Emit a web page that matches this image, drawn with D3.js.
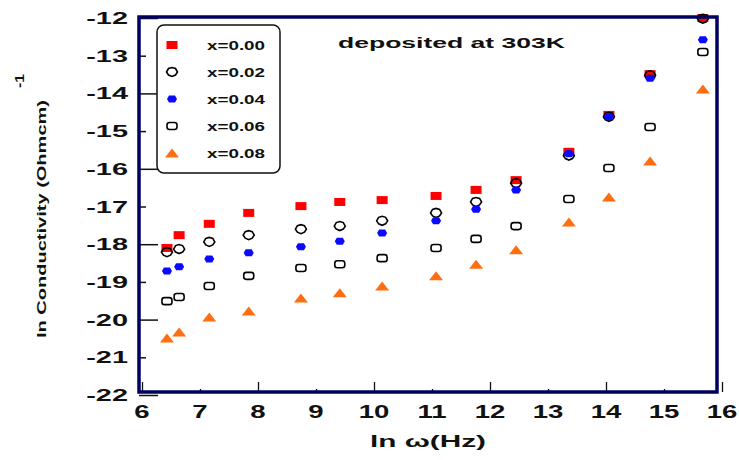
<!DOCTYPE html>
<html>
<head>
<meta charset="utf-8">
<script src="https://cdn.jsdelivr.net/npm/d3@7/dist/d3.min.js"></script>
<style>
  body { margin: 0; background: white; }
  svg { display: block; }
  text { font-family: "Liberation Sans", Arial, sans-serif; font-weight: bold; fill: #111; }
</style>
</head>
<body>
<svg width="739" height="460"></svg>
<script>
let width = 739;
let height = 460;

// ln(omega) positions, shared by every series
let lnOmega = [6.43, 6.64, 7.16, 7.84, 8.74, 9.41, 10.14, 11.07, 11.76, 12.45, 13.36, 14.05, 14.76, 15.67];

let x000 = [-18.10, -17.76, -17.46, -17.17, -16.99, -16.88, -16.83, -16.72, -16.56, -16.30, -15.55, -14.57, -13.49, -12.00];
let x002 = [-18.21, -18.13, -17.94, -17.76, -17.60, -17.52, -17.38, -17.17, -16.88, -16.38, -15.65, -14.62, -13.52, -12.02];
let x004 = [-18.71, -18.60, -18.39, -18.23, -18.07, -17.92, -17.70, -17.38, -17.07, -16.56, -15.60, -14.62, -13.60, -12.58];
let x006 = [-19.51, -19.40, -19.11, -18.84, -18.63, -18.53, -18.37, -18.10, -17.86, -17.52, -16.80, -15.98, -14.89, -12.90];
let x008 = [-20.49, -20.33, -19.93, -19.77, -19.43, -19.29, -19.11, -18.84, -18.53, -18.15, -17.41, -16.75, -15.79, -13.88];

let seriesNames = ['x=0.00', 'x=0.02', 'x=0.04', 'x=0.06', 'x=0.08'];
let seriesValues = [x000, x002, x004, x006, x008];

let xTicks = d3.range(6, 17);
let yTicks = d3.range(-22, -11);

let x = d3.scaleLinear().domain([6, 16]).range([142, 722]);
let y = d3.scaleLinear().domain([-22, -12]).range([395, 18]);

let svg = d3.select('svg');

// marker shapes, one per series
function marker(g, i) {
  if (i === 0) {
    g.append('rect').attr('x', -5.5).attr('y', -4).attr('width', 11).attr('height', 8).attr('fill', '#ff0000');
  } else if (i === 1) {
    g.append('path')
      .attr('d', 'M-5.5,0 L-3.5,-3.5 L0,-4.5 L3.5,-3.5 L5.5,0 L3.5,3 L0,4.5 L-3.5,3 Z')
      .attr('fill', 'none').attr('stroke', '#000').attr('stroke-width', 1.6);
  } else if (i === 2) {
    g.append('path')
      .attr('d', 'M-5,0 L-3,-3.5 L3,-3.5 L5,0 L3,3.5 L-3,3.5 Z')
      .attr('fill', '#0a0aff');
  } else if (i === 3) {
    g.append('rect').attr('x', -5).attr('y', -3.5).attr('width', 10).attr('height', 7).attr('rx', 2.5)
      .attr('fill', 'none').attr('stroke', '#000').attr('stroke-width', 1.6);
  } else {
    g.append('path').attr('d', 'M-7,4.5 L0,-4.5 L7,4.5 Z').attr('fill', '#ff6e10');
  }
}

// points
seriesValues.forEach((vals, i) => {
  svg.append('g')
    .attr('class', 'series' + i)
    .selectAll('g')
    .data(vals.map((v, k) => [lnOmega[k], v]))
    .enter()
      .append('g')
      .attr('transform', d => `translate(${x(d[0])},${y(d[1])})`)
      .each(function() { marker(d3.select(this), i); })
  ;
});

// ticks
svg.append('g')
  .attr('transform', `translate(0,${y(-22) - 3})`)
  .call(d3.axisBottom(x).tickValues(xTicks).tickFormat(''))
  .call(g => g.select('.domain').remove())
  .call(g => g.selectAll('.tick line')
    .attr('stroke', '#111').attr('stroke-width', 1.3)
    .attr('y2', d => d % 2 === 0 ? -10 : -3))
  ;
svg.append('g')
  .attr('transform', `translate(${x(6) - 3},0)`)
  .call(d3.axisLeft(y).tickValues(yTicks).tickFormat(''))
  .call(g => g.select('.domain').remove())
  .call(g => g.selectAll('.tick line')
    .attr('stroke', '#111').attr('stroke-width', 1.5)
    .attr('x2', d => d % 2 === 0 ? 19 : 7))
  ;

// frame
let fl = x(6) - 3, fr = x(16) - 5, ft = y(-12) - 1, fb = y(-22) - 3;
svg.append('path')
  .attr('d', `M${fl},${ft} L${fr},${ft} L${fr},${fb} L${fl},${fb} Z`)
  .attr('fill', 'none')
  .attr('stroke', '#00005e')
  .attr('stroke-width', 3.5)
  ;

// tick labels (the original is stretched horizontally)
svg.append('g')
  .selectAll('text')
  .data(xTicks)
  .enter()
    .append('text')
    .attr('transform', d => `translate(${x(d)},418) scale(1.45,1)`)
    .attr('text-anchor', 'middle')
    .attr('font-size', 19)
    .text(d => d)
  ;
svg.append('g')
  .selectAll('text')
  .data(yTicks)
  .enter()
    .append('text')
    .attr('transform', d => `translate(128,${y(d) + 6}) scale(1.7,1)`)
    .attr('text-anchor', 'end')
    .attr('font-size', 17)
    .text(d => String(d).replace('-', '-'))
  ;

// axis titles
svg.append('text')
  .attr('x', 370).attr('y', 447)
  .attr('font-size', 17)
  .attr('textLength', 116)
  .attr('lengthAdjust', 'spacingAndGlyphs')
  .text('ln  \u03c9(Hz)')
  ;
svg.append('text')
  .attr('transform', 'translate(46,338) rotate(-90)')
  .attr('font-size', 13)
  .attr('textLength', 238)
  .attr('lengthAdjust', 'spacingAndGlyphs')
  .text('ln Conductivity (Ohmcm)')
  ;
svg.append('text')
  .attr('transform', 'translate(24,88) rotate(-90)')
  .attr('font-size', 13)
  .attr('textLength', 14)
  .attr('lengthAdjust', 'spacingAndGlyphs')
  .text('-1')
  ;

svg.append('text')
  .attr('x', 338).attr('y', 48)
  .attr('font-size', 14)
  .attr('textLength', 227)
  .attr('lengthAdjust', 'spacingAndGlyphs')
  .text('deposited at 303K')
  ;

// legend
let legend = svg.append('g').attr('class', 'legend');
legend.append('rect')
  .attr('x', 157).attr('y', 25)
  .attr('width', 123).attr('height', 148)
  .attr('rx', 7)
  .attr('fill', 'white')
  .attr('stroke', '#111')
  .attr('stroke-width', 1.5)
  ;
seriesNames.forEach((name, i) => {
  let row = legend.append('g').attr('transform', `translate(0,${45 + i * 27})`);
  marker(row.append('g').attr('transform', 'translate(172,0)'), i);
  row.append('text')
    .attr('x', 207).attr('y', 5)
    .attr('font-size', 13)
    .attr('textLength', 58)
    .attr('lengthAdjust', 'spacingAndGlyphs')
    .text(name)
    ;
});
</script>
</body>
</html>
